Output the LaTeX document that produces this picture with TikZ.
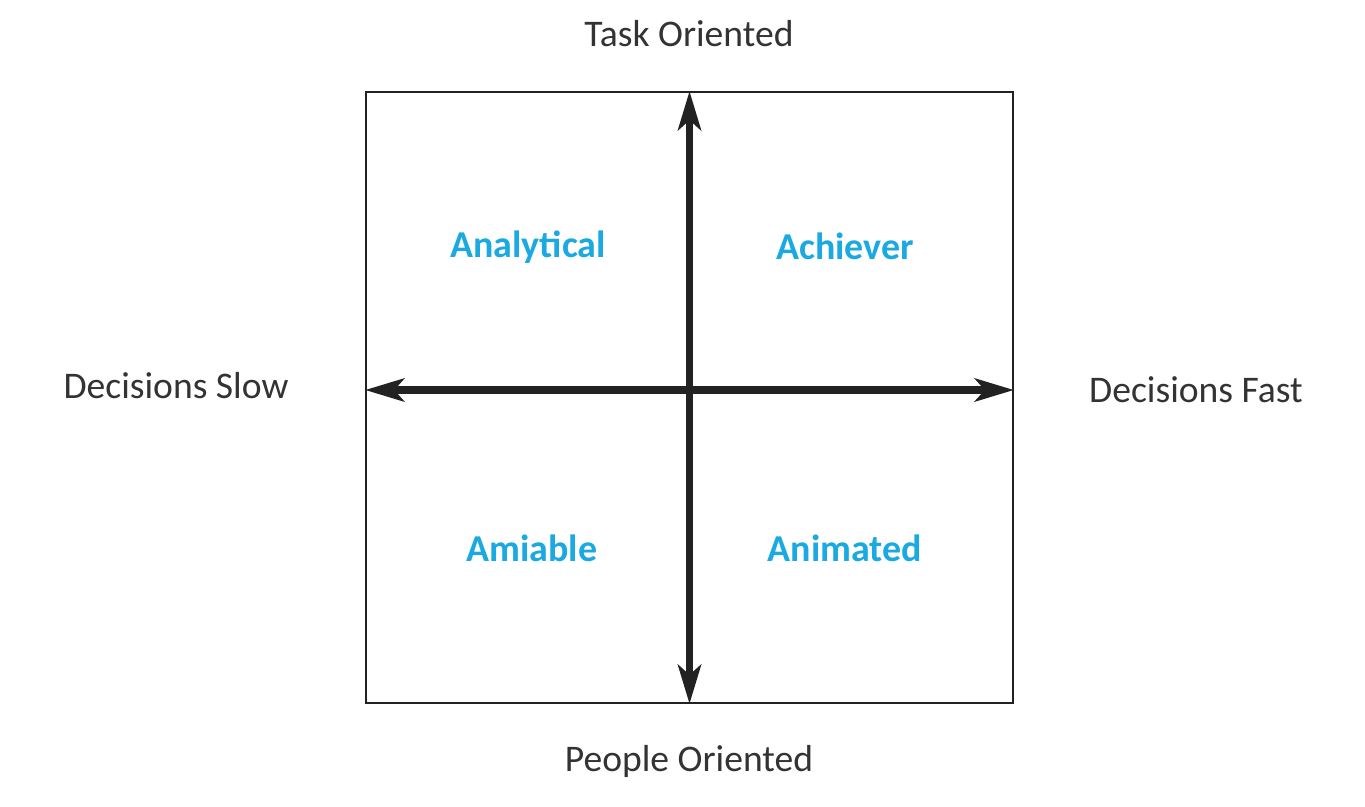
\documentclass[tikz,border=0pt]{standalone}
\usepackage{fontspec}
\setmainfont{Carlito}
\usetikzlibrary{arrows.meta}
\definecolor{txtgray}{HTML}{333333}
\definecolor{quadblue}{HTML}{1BA9E1}
\definecolor{axisdark}{HTML}{222222}
\tikzset{
  axislabel/.style={text=txtgray, font=\fontsize{21.4pt}{24pt}\selectfont, inner sep=0pt},
  quadlabel/.style={text=quadblue, font=\fontsize{21.6pt}{24pt}\selectfont\bfseries, inner sep=0pt},
  framebox/.style={draw=axisdark, line width=1.1pt, minimum width=12.94cm, minimum height=12.22cm, inner sep=0pt},
  axisarrow/.style={draw=axisdark, line width=4pt, {Stealth[length=0.78cm,width=0.46cm,inset=0.2cm]}-{Stealth[length=0.78cm,width=0.46cm,inset=0.2cm]}, shorten <=0pt, shorten >=0pt}
}
\begin{document}
\begin{tikzpicture}[x=0.02cm,y=-0.02cm]
\useasboundingbox (0,0) rectangle (1365,806);
\node[framebox] (box) at (689.5,397.5) {};
\draw[axisarrow] (box.north) -- (box.south);
\draw[axisarrow] (box.west |- 0,390) coordinate (lw) -- (box.east |- 0,390) coordinate (re);
\node[axislabel] (task) at (689,34) {Task Oriented};
\node[axislabel] (people) at (689,761) {People Oriented};
\node[axislabel] (slow) at (176,386) {Decisions Slow};
\node[axislabel] (fast) at (1196,390) {Decisions Fast};
\node[quadlabel] (analytical) at (528,247) {Analytical};
\node[quadlabel] (achiever) at (845,246) {Achiever};
\node[quadlabel] (amiable) at (532,548) {Amiable};
\node[quadlabel] (animated) at (845,548) {Animated};
\end{tikzpicture}
\end{document}
